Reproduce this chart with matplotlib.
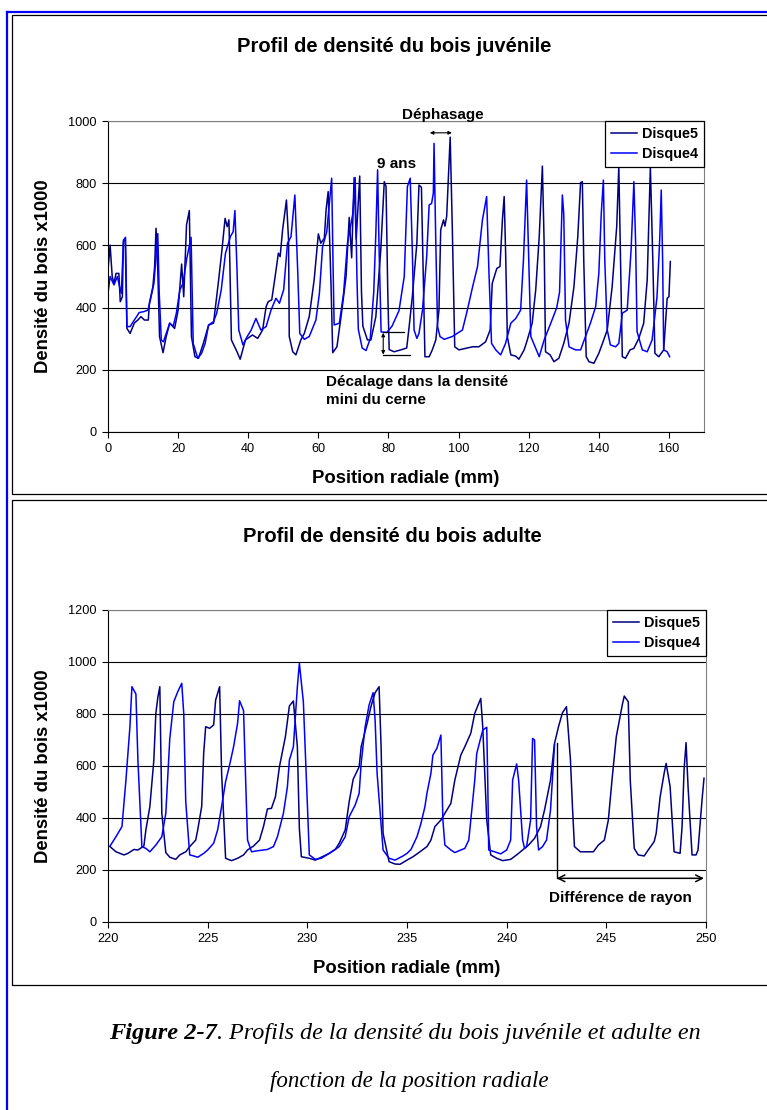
import matplotlib
matplotlib.use("Agg")
import matplotlib.pyplot as plt
from matplotlib.lines import Line2D
from matplotlib.patches import Rectangle

plt.rcParams["font.family"] = ["Liberation Sans", "DejaVu Sans"]

# ---- juvenile wood (top panel) ----
juv_d5_x = [0.0, 0.6, 1.2, 1.7, 2.3, 3.1, 3.5, 4.1, 4.4, 4.9, 5.4, 6.3, 7.5, 8.5, 9.4, 10.4, 11.5, 11.8,
            12.8, 13.3, 13.7, 14.2, 14.7, 15.7, 16.6, 17.6, 19.0, 20.0, 21.0, 21.6, 22.4, 23.2, 23.8,
            24.8, 25.8, 27.2, 28.7, 30.1, 31.5, 32.5, 33.4, 34.0, 34.5, 35.2, 36.8, 37.7, 39.2, 41.2,
            42.7, 44.1, 45.1, 45.7, 46.7, 47.6, 48.6, 49.1, 49.8, 50.9, 51.5, 51.7, 52.7, 53.6, 55.0,
            56.0, 57.4, 58.8, 60.0, 60.7, 61.7, 62.2, 62.8, 63.6, 64.1, 65.3, 66.6, 67.9, 68.8, 69.5,
            70.2, 70.8, 71.2, 71.8, 72.3, 72.7, 74.0, 75.0, 76.4, 77.8, 78.8, 79.3, 79.8, 80.2, 81.6,
            83.5, 85.2, 85.9, 86.8, 88.1, 88.7, 89.4, 89.9, 90.4, 91.6, 92.5, 93.5, 94.4, 94.9, 95.7,
            96.1, 96.6, 97.6, 98.2, 98.9, 100.1, 102.0, 104.0, 105.8, 107.7, 109.0, 109.6, 110.9,
            111.8, 112.5, 113.0, 113.4, 113.9, 114.9, 116.3, 117.2, 118.7, 119.6, 121.0, 122.0,
            123.0, 123.9, 124.4, 124.8, 126.1, 127.2, 128.6, 130.0, 131.5, 132.9, 134.0, 134.8,
            135.3, 135.7, 136.4, 137.2, 138.6, 140.0, 141.4, 142.4, 143.8, 145.1, 145.7, 146.2,
            146.7, 147.6, 148.9, 150.0, 151.4, 152.8, 153.8, 154.7, 155.4, 156.0, 157.1, 158.5,
            159.5, 160.0, 160.4]
juv_d5_y = [521, 601, 500, 478, 510, 510, 419, 435, 617, 623, 333, 317, 350, 360, 371, 360, 360, 414,
            467, 532, 655, 521, 307, 255, 307, 350, 333, 392, 540, 435, 666, 712, 307,
            242, 237, 285, 344, 350, 483, 585, 687, 660, 682, 296, 258, 234, 296, 312,
            301, 328, 403, 419, 425, 494, 575, 564, 650, 746, 617, 307, 258, 248, 296,
            317, 371, 489, 637, 607, 623, 714, 773, 478, 255, 274, 382, 500, 690, 560,
            818, 620, 700, 823, 450, 340, 296, 296, 371, 585, 805, 790, 450, 265, 258,
            264, 270, 339, 435, 607, 794, 787, 521, 242, 242, 264, 296, 392, 650, 682,
            662, 693, 948, 660, 274, 264, 269, 274, 274, 290, 328, 478, 526,
            532, 682, 757, 585, 307, 248, 244, 234, 264, 296, 350, 457,
            628, 855, 607, 258, 248, 226, 237, 285, 350, 467, 628, 802,
            805, 553, 242, 226, 221, 253, 296, 328, 467, 660, 853, 553,
            242, 237, 264, 269, 301, 350, 489, 853, 553, 253, 242, 264,
            430, 435, 548]

juv_d4_x = [0.0, 0.6, 1.7, 2.7, 3.3, 3.8, 4.4, 5.0, 5.4, 6.3, 7.5, 8.9, 10.2, 11.4, 12.1, 13.1, 14.2,
            14.6, 15.2, 15.8, 16.6, 17.6, 18.6, 19.5, 20.5, 21.4, 22.5, 23.7, 24.3, 25.6, 26.7, 27.7,
            28.7, 30.1, 31.0, 32.3, 33.5, 34.9, 35.7, 36.2, 36.8, 37.3, 38.5, 39.7, 40.8, 42.2, 43.6,
            45.1, 46.5, 47.9, 48.9, 50.1, 51.2, 52.2, 53.3, 54.1, 54.7, 56.0, 57.4, 59.3, 60.3, 61.2,
            62.4, 63.8, 64.2, 64.5, 66.0, 67.2, 68.3, 69.0, 69.8, 70.5, 71.0, 71.4, 72.5, 73.6, 74.8,
            75.8, 76.4, 76.9, 77.3, 77.9, 79.5, 81.0, 83.0, 84.5, 85.4, 86.2, 86.8, 87.3, 88.1, 88.7,
            89.7, 90.9, 91.6, 92.3, 92.8, 93.0, 93.5, 94.0, 94.7, 95.9, 98.2, 101.1, 102.5, 104.0,
            105.4, 106.8, 108.0, 108.7, 109.4, 110.6, 112.0, 113.4, 114.9, 116.3, 117.7, 118.5,
            119.4, 120.1, 120.6, 122.0, 123.0, 124.4, 126.3, 128.0, 128.8, 129.6, 130.0, 130.5,
            131.5, 132.4, 133.4, 134.8, 136.2, 137.6, 139.1, 140.0, 140.7, 141.3, 141.7, 142.4,
            143.3, 144.8, 145.7, 146.7, 148.1, 149.2, 150.0, 150.5, 150.9, 152.4, 153.8, 155.2,
            156.6, 157.4, 157.8, 158.2, 158.5, 159.5, 160.2]
juv_d4_y = [446, 500, 473, 500, 467, 446, 612, 626, 339, 339, 360, 384, 387, 392, 425, 478, 638,
            450, 296, 290, 317, 350, 340, 382, 457, 478, 560, 626, 285, 237, 253, 285,
            344, 355, 382, 457, 574, 628, 644, 712, 521, 328, 280, 307, 327, 365, 328,
            339, 392, 430, 414, 457, 607, 628, 762, 521, 317, 298, 307, 360, 446, 596,
            644, 816, 532, 344, 350, 446, 607, 650, 700, 818, 500, 330, 270, 262, 300,
            450, 640, 843, 600, 322, 320, 340, 390, 500, 789, 816, 585, 328, 301, 317,
            392, 564, 730, 735, 768, 928, 607, 339, 307, 298, 307, 328, 392, 467,
            532, 682, 757, 500, 285, 264, 248, 285, 350, 365, 392, 553,
            810, 521, 307, 269, 242, 296, 350, 400, 450, 762, 700, 360,
            274, 269, 264, 264, 307, 350, 403, 510, 703, 810, 553, 328,
            280, 274, 285, 382, 392, 585, 805, 607, 323, 264, 258, 296,
            435, 628, 778, 553, 264, 258, 242]

# ---- adult wood (bottom panel) ----
adu_d5_x = [220.1, 220.4, 220.8, 221.0, 221.3, 221.5, 221.8, 221.9, 222.1, 222.3, 222.4, 222.5, 222.6,
            222.7, 222.9, 223.1, 223.4, 223.6, 223.9, 224.1, 224.4, 224.5, 224.7, 224.8, 224.9,
            225.1, 225.3, 225.4, 225.6, 225.7, 225.9, 226.2, 226.5, 226.8, 227.0, 227.3, 227.6,
            227.8, 228.0, 228.2, 228.4, 228.6, 228.9, 229.1, 229.3, 229.5, 229.6, 229.7, 230.1,
            230.4, 230.7, 231.1, 231.4, 231.6, 231.9, 232.1, 232.3, 232.6, 232.7, 233.0, 233.2,
            233.4, 233.6, 233.7, 233.8, 234.1, 234.4, 234.65, 235.0, 235.3, 235.65, 236.0, 236.2,
            236.4, 236.7, 236.9, 237.2, 237.4, 237.7, 237.9, 238.2, 238.4, 238.7, 238.8, 239.0,
            239.2, 239.5, 239.8, 240.2, 240.5, 240.8, 241.1, 241.4, 241.7, 241.9, 242.2, 242.4,
            242.6, 242.8, 243.0, 243.2, 243.3, 243.4, 243.7, 244.0, 244.35, 244.6, 244.9, 245.1,
            245.3, 245.5, 245.8, 245.9, 246.1, 246.2, 246.4, 246.6, 246.9, 247.1, 247.4, 247.5,
            247.7, 247.9, 248.0, 248.2, 248.4, 248.7, 248.8, 248.9, 249.0, 249.1, 249.3, 249.5,
            249.6, 249.8, 249.9]
adu_d5_y = [290, 270, 258, 264, 279, 277, 292, 354, 444, 623, 802, 864, 905,
            418, 267, 249, 241, 258, 270, 290, 315, 354, 444, 649, 751,
            745, 758, 854, 905, 572, 245, 236, 245, 258, 277, 292, 315,
            367, 435, 437, 482, 597, 713, 831, 850, 674, 360, 251, 245,
            238, 249, 264, 279, 303, 354, 463, 549, 597, 674, 764, 831,
            882, 905, 674, 341, 232, 223, 222, 238, 251, 270, 290, 315,
            367, 392, 418, 456, 546, 642, 674, 726, 803, 860, 751, 392,
            258, 245, 236, 241, 258, 277, 296, 322, 367, 431, 546, 687,
            751, 805, 828, 623, 444, 290, 270, 270, 270, 296, 315, 392,
            559, 713, 835, 869, 847, 546, 283, 258, 254, 277, 309, 341,
            482, 572, 610, 520, 270, 264, 367, 585, 690, 520, 258, 258,
            277, 469, 553]

adu_d4_x = [220.1, 220.4, 220.7, 220.9, 221.1, 221.2, 221.4, 221.5, 221.7, 221.9, 222.1, 222.4, 222.7,
            222.9, 223.1, 223.3, 223.5, 223.7, 223.8, 223.9, 224.1, 224.3, 224.5, 224.8, 225.0,
            225.3, 225.5, 225.7, 225.9, 226.1, 226.3, 226.5, 226.6, 226.8, 226.9, 227.0, 227.2,
            227.5, 228.0, 228.3, 228.5, 228.8, 229.0, 229.1, 229.3, 229.5, 229.6, 229.8, 230.0,
            230.1, 230.4, 230.7, 231.1, 231.4, 231.6, 231.9, 232.1, 232.4, 232.6, 232.7, 232.9,
            233.1, 233.3, 233.4, 233.5, 233.8, 234.1, 234.4, 234.8, 235.0, 235.2, 235.5, 235.7,
            235.9, 236.0, 236.2, 236.3, 236.5, 236.7, 236.8, 236.9, 237.2, 237.4, 237.7, 237.9,
            238.1, 238.2, 238.4, 238.5, 238.8, 239.0, 239.05, 239.1, 239.4, 239.7, 240.0, 240.2,
            240.3, 240.5, 240.6, 240.8, 240.9, 241.0, 241.2, 241.3, 241.4, 241.5, 241.6, 241.8,
            242.0, 242.2, 242.4]
adu_d4_y = [292, 328, 367, 546, 751, 905, 877, 623, 290, 283, 270, 296, 328,
            418, 706, 847, 886, 918, 802, 463, 258, 254, 249, 264, 277,
            303, 354, 444, 540, 604, 674, 764, 851, 813, 559, 315, 270,
            274, 279, 290, 328, 418, 520, 623, 674, 905, 995, 847, 456,
            258, 241, 245, 264, 279, 290, 328, 405, 450, 495, 610, 751,
            835, 882, 777, 572, 277, 245, 238, 254, 264, 279, 328, 379,
            444, 495, 572, 642, 668, 719, 392, 296, 277, 267, 277, 283,
            315, 392, 546, 649, 738, 749, 546, 277, 270, 262, 277, 315,
            546, 608, 546, 315, 283, 290, 392, 706, 700, 367, 277, 290,
            315, 431, 681]

W, H = 767, 1110
NAVY = "#000080"
BLUE = "#0000FF"


def fx(px):
    return px / W


def fy(py):
    return 1 - py / H


fig = plt.figure(figsize=(W / 100, H / 100), dpi=100)

# outer page frame and the two chart boxes
fig.add_artist(Line2D([fx(7), fx(7)], [fy(12), fy(1112)], color=BLUE, lw=1.6))
fig.add_artist(Line2D([fx(7), fx(770)], [fy(12), fy(12)], color=BLUE, lw=1.6))
for top, bot in [(15, 494), (500, 985)]:
    fig.add_artist(Rectangle((fx(12), fy(bot)), fx(800) - fx(12), fy(top) - fy(bot),
                             fill=False, edgecolor="black", lw=0.9))


def style_axes(ax, xlim, xticks, ymax):
    ax.set_xlim(*xlim)
    ax.set_ylim(0, ymax)
    ax.set_xticks(xticks)
    ax.set_yticks(range(0, ymax + 1, 200))
    ax.yaxis.grid(True, color="black", lw=0.8)
    ax.set_axisbelow(True)
    for side in ("top", "right"):
        ax.spines[side].set_color("#808080")
    for side in ("left", "bottom"):
        ax.spines[side].set_color("black")
    ax.tick_params(direction="out", length=4, width=0.8, pad=4, labelsize=9.2)
    ax.set_xlabel("Position radiale (mm)", fontsize=13.3, fontweight="bold")
    ax.set_ylabel("Densité du bois x1000", fontsize=13.3, fontweight="bold")
    leg = ax.legend(loc="upper right", bbox_to_anchor=(1, 1), borderaxespad=0, fancybox=False,
                    edgecolor="black", framealpha=1, handlelength=1.8, handletextpad=0.35,
                    borderpad=0.4, labelspacing=0.45, prop={"weight": "bold", "size": 10.4})
    leg.get_frame().set_linewidth(0.9)


ann = dict(fontsize=11, fontweight="bold")

# top panel
ax1 = fig.add_axes([fx(108), fy(432), fx(704) - fx(108), fy(121) - fy(432)])
ax1.plot(juv_d5_x, juv_d5_y, color=NAVY, lw=1.1, label="Disque5")
ax1.plot(juv_d4_x, juv_d4_y, color=BLUE, lw=1.1, label="Disque4")
style_axes(ax1, (0, 170), range(0, 161, 20), 1000)
ax1.xaxis.set_label_coords(0.5, -0.122)
ax1.yaxis.set_label_coords(-0.094, 0.5)
fig.text(fx(394), fy(47), "Profil de densité du bois juvénile", ha="center", va="center",
         fontsize=14.5, fontweight="bold")

ax1.text(95.6, 1018, "Déphasage", ha="center", va="center", clip_on=False, **ann)
ax1.annotate("", xy=(91.8, 962), xytext=(98.1, 962),
             arrowprops=dict(arrowstyle="<|-|>", lw=0.8, color="black", mutation_scale=5,
                             shrinkA=0, shrinkB=0))
ax1.text(82.3, 862, "9 ans", ha="center", va="center", **ann)
ax1.plot([78.3, 84.5], [321, 321], color="black", lw=0.9)
ax1.plot([78.3, 86.1], [247, 247], color="black", lw=0.9)
ax1.annotate("", xy=(78.5, 249), xytext=(78.5, 319),
             arrowprops=dict(arrowstyle="<|-|>", lw=0.8, color="black", mutation_scale=5,
                             shrinkA=0, shrinkB=0))
ax1.text(62.2, 182, "Décalage dans la densité\nmini du cerne", ha="left", va="top",
         linespacing=1.3, **ann)

# bottom panel
ax2 = fig.add_axes([fx(108), fy(922), fx(706) - fx(108), fy(610) - fy(922)])
ax2.plot(adu_d5_x, adu_d5_y, color=NAVY, lw=1.1, label="Disque5")
ax2.plot(adu_d4_x, adu_d4_y, color=BLUE, lw=1.1, label="Disque4")
style_axes(ax2, (220, 250), range(220, 251, 5), 1200)
ax2.xaxis.set_label_coords(0.5, -0.122)
ax2.yaxis.set_label_coords(-0.094, 0.5)
fig.text(fx(392), fy(537), "Profil de densité du bois adulte", ha="center", va="center",
         fontsize=14.5, fontweight="bold")
ax2.plot([242.5, 242.5], [687, 168], color="black", lw=1.0)
ax2.annotate("", xy=(242.5, 168), xytext=(249.9, 168),
             arrowprops=dict(arrowstyle="<->", lw=1.1, color="black", mutation_scale=12,
                             shrinkA=0, shrinkB=0))
ax2.text(245.7, 91, "Différence de rayon", ha="center", va="center", **ann)

# caption, bold "Figure 2-7" followed by italic text, centred as one line
serif = ["Liberation Serif", "DejaVu Serif"]
renderer = fig.canvas.get_renderer()
cap_y = fy(1033)
t1 = fig.text(0, cap_y, "Figure 2-7", fontsize=17.6, family=serif, style="italic",
              fontweight="bold", ha="left", va="center")
t2 = fig.text(0, cap_y, ". Profils de la densité du bois juvénile et adulte en", fontsize=17.4,
              family=serif, style="italic", ha="left", va="center")
w1 = t1.get_window_extent(renderer).width / W
w2 = t2.get_window_extent(renderer).width / W
x0 = fx(405) - (w1 + w2) / 2
t1.set_x(x0)
t2.set_x(x0 + w1)
fig.text(fx(409), fy(1081), "fonction de la position radiale", fontsize=16.6, family=serif,
         style="italic", ha="center", va="center")

fig.savefig("out.png", dpi=100)
